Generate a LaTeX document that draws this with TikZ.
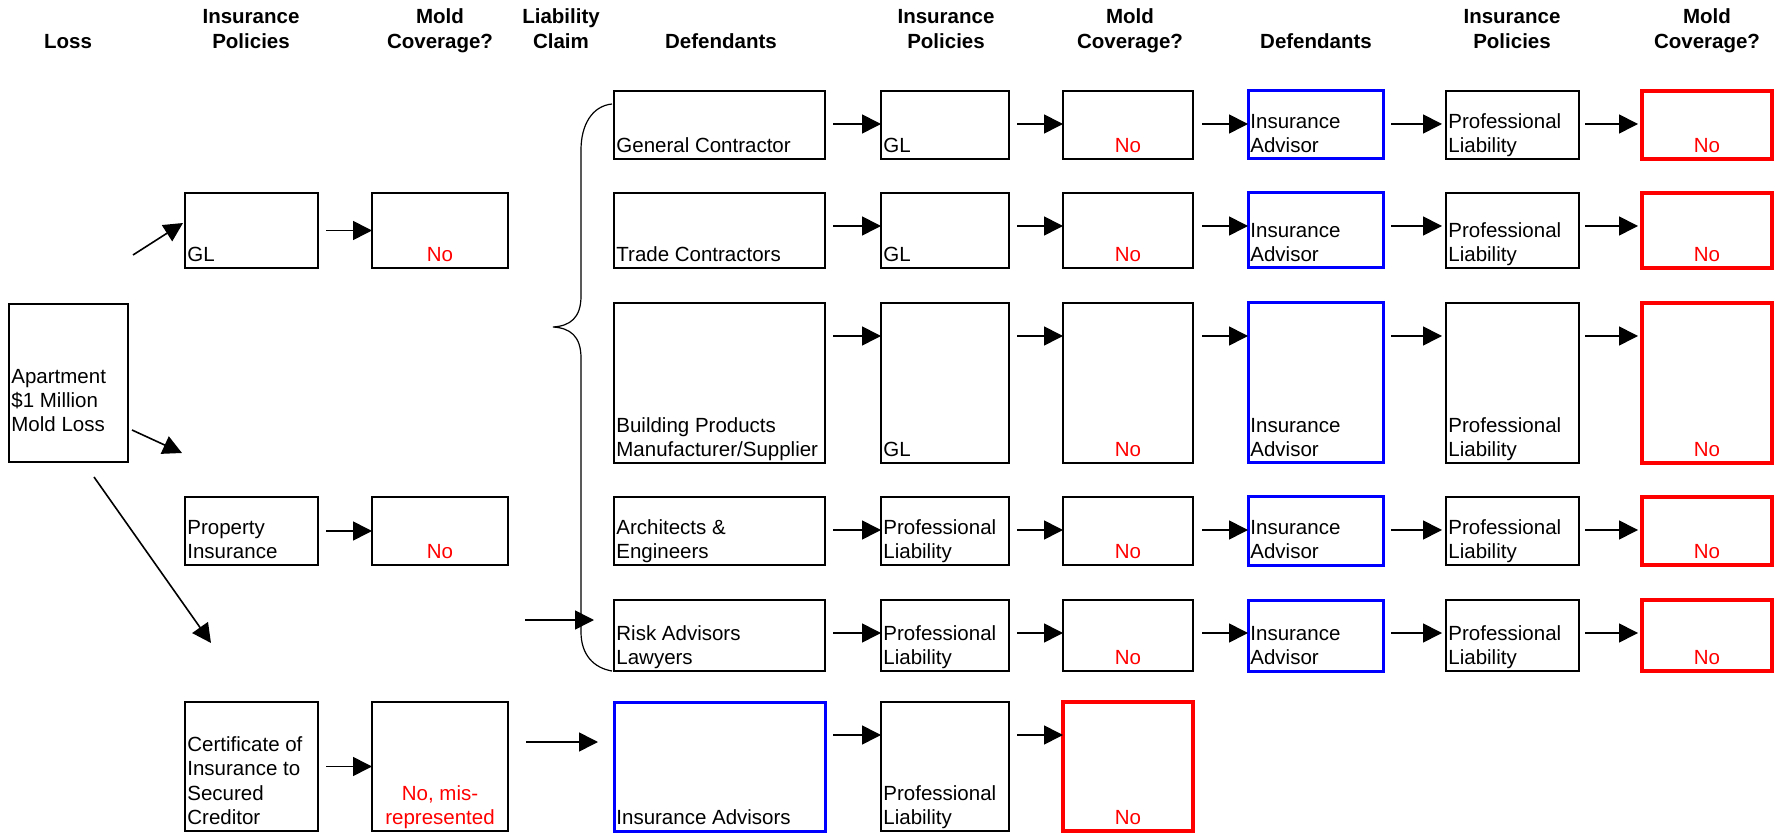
\documentclass[tikz,border=0pt]{standalone}
\usepackage{fontspec}
\setmainfont{Liberation Sans}
\usetikzlibrary{arrows.meta,fit,calc}
\newcommand\bodyf{\fontsize{10.25pt}{12.2pt}\selectfont}
\newcommand\headf{\fontsize{10.25pt}{12.5pt}\selectfont\bfseries}
\tikzset{
  box/.style={draw=black, line width=0.9pt, inner sep=0pt, outer sep=0pt},
  bluebox/.style={draw=blue, line width=1.5pt, inner sep=0pt, outer sep=0pt},
  redbox/.style={draw=red, line width=1.7pt, inner sep=0pt, outer sep=0pt},
  btxt/.style={anchor=south west, inner sep=0pt, align=left, font=\bodyf, xshift=1pt, yshift=0.85pt},
  rtxt/.style={anchor=south, inner sep=0pt, align=center, font=\bodyf, text=red, yshift=0.85pt},
  head/.style={anchor=base, inner sep=0pt, align=center, font=\headf},
  arr/.style={line width=0.8pt, -{Triangle[length=9.5pt,width=9.5pt]}},
  bracepath/.style={line width=0.6pt},
}
\begin{document}
\begin{tikzpicture}[x=0.5pt,y=-0.5pt]
\useasboundingbox (0,0) rectangle (1782,833);
% headers
\node[head] (h1) at (68,49) {Loss};
\node[head] (h2) at (251,49) {Insurance\\Policies};
\node[head] (h3) at (440,49) {Mold\\Coverage?};
\node[head] (h4) at (561,49) {Liability\\Claim};
\node[head] (h5) at (721,49) {Defendants};
\node[head] (h6) at (946,49) {Insurance\\Policies};
\node[head] (h7) at (1130,49) {Mold\\Coverage?};
\node[head] (h8) at (1316,49) {Defendants};
\node[head] (h9) at (1512,49) {Insurance\\Policies};
\node[head] (h10) at (1707,49) {Mold\\Coverage?};
% apartment
\node[box, fit={(9,304) (128,462)}] (a) {};
\node[anchor=west, inner sep=0pt, align=left, font=\bodyf, xshift=1pt, yshift=-8.8pt] (at) at (a.west) {Apartment\\\$1 Million\\Mold Loss};
% column B / C
\node[box, fit={(185,193) (318,268)}] (b2) {};
\node[box, fit={(185,497) (318,565)}] (b4) {};
\node[box, fit={(185,702) (318,831)}] (b6) {};
\node[box, fit={(372,193) (508,268)}] (c2) {};
\node[box, fit={(372,497) (508,565)}] (c4) {};
\node[box, fit={(372,702) (508,831)}] (c6) {};
\node[btxt] (b2t) at (b2.south west) {GL\vphantom{y}};
\node[btxt] (b4t) at (b4.south west) {Property\\Insurance\vphantom{y}};
\node[btxt] (b6t) at (b6.south west) {Certificate of\\Insurance to\\Secured\\Creditor\vphantom{y}};
\node[rtxt] (c2t) at (c2.south) {No\vphantom{y}};
\node[rtxt] (c4t) at (c4.south) {No\vphantom{y}};
\node[rtxt] (c6t) at (c6.south) {No, mis-\\represented\vphantom{y}};
% column D
\node[box, fit={(614,91) (825,159)}] (d1) {};
\node[box, fit={(614,193) (825,268)}] (d2) {};
\node[box, fit={(614,303) (825,463)}] (d3) {};
\node[box, fit={(614,497) (825,565)}] (d4) {};
\node[box, fit={(614,600) (825,671)}] (d5) {};
\node[bluebox, fit={(614,702) (825,831)}] (d6) {};
\node[btxt] (d1t) at (d1.south west) {General Contractor\vphantom{y}};
\node[btxt] (d2t) at (d2.south west) {Trade Contractors\vphantom{y}};
\node[btxt] (d3t) at (d3.south west) {Building Products\\Manufacturer/Supplier\vphantom{y}};
\node[btxt] (d4t) at (d4.south west) {Architects \&\\Engineers\vphantom{y}};
\node[btxt] (d5t) at (d5.south west) {Risk Advisors\\Lawyers\vphantom{y}};
\node[btxt] (d6t) at (d6.south west) {Insurance Advisors\vphantom{y}};
% column E
\node[box, fit={(881,91) (1009,159)}] (e1) {};
\node[box, fit={(881,193) (1009,268)}] (e2) {};
\node[box, fit={(881,303) (1009,463)}] (e3) {};
\node[box, fit={(881,497) (1009,565)}] (e4) {};
\node[box, fit={(881,600) (1009,671)}] (e5) {};
\node[box, fit={(881,702) (1009,831)}] (e6) {};
\node[btxt] (e1t) at (e1.south west) {GL\vphantom{y}};
\node[btxt] (e2t) at (e2.south west) {GL\vphantom{y}};
\node[btxt] (e3t) at (e3.south west) {GL\vphantom{y}};
\node[btxt] (e4t) at (e4.south west) {Professional\\Liability\vphantom{y}};
\node[btxt] (e5t) at (e5.south west) {Professional\\Liability\vphantom{y}};
\node[btxt] (e6t) at (e6.south west) {Professional\\Liability\vphantom{y}};
% column F
\node[box, fit={(1063,91) (1193,159)}] (f1) {};
\node[box, fit={(1063,193) (1193,268)}] (f2) {};
\node[box, fit={(1063,303) (1193,463)}] (f3) {};
\node[box, fit={(1063,497) (1193,565)}] (f4) {};
\node[box, fit={(1063,600) (1193,671)}] (f5) {};
\node[redbox, fit={(1063,702) (1193,831)}] (f6) {};
\foreach \r in {1,...,6} {\node[rtxt] (f\r t) at (f\r.south) {No\vphantom{y}};}
% column G, H, I
\node[bluebox, fit={(1248,91) (1383,159)}] (g1) {};
\node[bluebox, fit={(1248,193) (1383,268)}] (g2) {};
\node[bluebox, fit={(1248,303) (1383,463)}] (g3) {};
\node[bluebox, fit={(1248,497) (1383,565)}] (g4) {};
\node[bluebox, fit={(1248,600) (1383,671)}] (g5) {};
\node[box, fit={(1446,91) (1579,159)}] (h1b) {};
\node[box, fit={(1446,193) (1579,268)}] (h2b) {};
\node[box, fit={(1446,303) (1579,463)}] (h3b) {};
\node[box, fit={(1446,497) (1579,565)}] (h4b) {};
\node[box, fit={(1446,600) (1579,671)}] (h5b) {};
\node[redbox, fit={(1642,91) (1772,159)}] (i1) {};
\node[redbox, fit={(1642,193) (1772,268)}] (i2) {};
\node[redbox, fit={(1642,303) (1772,463)}] (i3) {};
\node[redbox, fit={(1642,497) (1772,565)}] (i4) {};
\node[redbox, fit={(1642,600) (1772,671)}] (i5) {};
\foreach \r in {1,...,5} {
  \node[btxt] (g\r t) at (g\r.south west) {Insurance\\Advisor\vphantom{y}};
  \node[btxt] (h\r t) at (h\r b.south west) {Professional\\Liability\vphantom{y}};
  \node[rtxt] (i\r t) at (i\r.south) {No\vphantom{y}};
  \draw[arr] ([xshift=4pt,yshift=-16.5pt]d\r.north east) -- ([yshift=-16.5pt]e\r.north west);
  \draw[arr] ([xshift=4pt,yshift=-16.5pt]e\r.north east) -- ([yshift=-16.5pt]f\r.north west);
  \draw[arr] ([xshift=4.5pt,yshift=-16.5pt]f\r.north east) -- ([yshift=-16.5pt]g\r.north west);
  \draw[arr, shorten >=2pt] ([xshift=4pt,yshift=-16.5pt]g\r.north east) -- ([yshift=-16.5pt]h\r b.north west);
  \draw[arr, shorten >=2pt] ([xshift=3pt,yshift=-16.5pt]h\r b.north east) -- ([yshift=-16.5pt]i\r.north west);
}
\draw[arr] ([xshift=4pt,yshift=-16.5pt]d6.north east) -- ([yshift=-16.5pt]e6.north west);
\draw[arr] ([xshift=4pt,yshift=-16.5pt]e6.north east) -- ([yshift=-16.5pt]f6.north west);
% B -> C
\draw[arr] ([xshift=4pt]b2.east) -- (c2.west);
\draw[arr] ([xshift=4pt]b4.east) -- (c4.west);
\draw[arr] ([xshift=4pt]b6.east) -- (c6.west);
% apartment arrows
\coordinate (s1) at (133,255);
\coordinate (t1) at (183,223);
\coordinate (s2) at (132,430);
\coordinate (t2) at (182,453);
\coordinate (s3) at (94,477);
\coordinate (t3) at (211,643);
\draw[arr] (s1) -- (t1);
\draw[arr] (s2) -- (t2);
\draw[arr] (s3) -- (t3);
% liability claim arrows
\coordinate (l1) at (525,620);
\coordinate (l2) at (526,742);
\draw[arr] (l1) -- ($(d5.west |- l1)+(-20,0)$);
\draw[arr] (l2) -- ($(d6.west |- l2)+(-16,0)$);
% brace
\draw[bracepath] (612,104) .. controls (592,106) and (581,125) .. (581,150) -- (581,296) .. controls (581,318) and (570,326) .. (553,327) .. controls (570,328) and (581,336) .. (581,358) -- (581,632) .. controls (581,655) and (594,668) .. (612,671);
\end{tikzpicture}
\end{document}
